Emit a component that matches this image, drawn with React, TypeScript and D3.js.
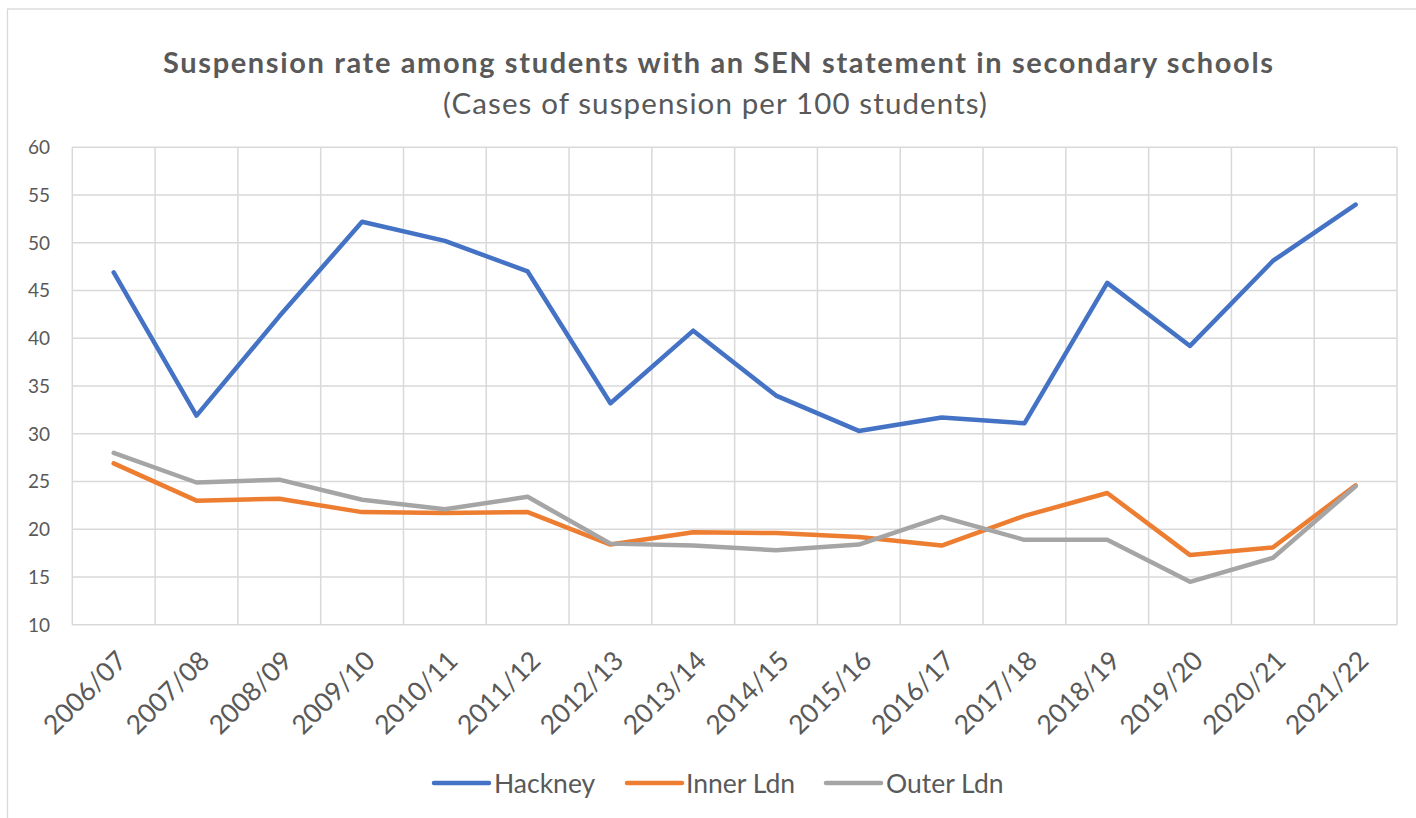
import React from "react";
import * as d3 from "d3";

const categories = ["2006/07","2007/08","2008/09","2009/10","2010/11","2011/12","2012/13","2013/14","2014/15","2015/16","2016/17","2017/18","2018/19","2019/20","2020/21","2021/22"];
const hackney = [46.9,31.9,42.3,52.2,50.2,47.0,33.2,40.8,34.0,30.3,31.7,31.1,45.8,39.2,48.1,54.0];
const innerLdn = [26.9,23.0,23.2,21.8,21.7,21.8,18.4,19.7,19.6,19.2,18.3,21.4,23.8,17.3,18.1,24.6];
const outerLdn = [28.0,24.9,25.2,23.1,22.1,23.4,18.5,18.3,17.8,18.4,21.3,18.9,18.9,14.5,17.0,24.5];
const yTicks = [10,15,20,25,30,35,40,45,50,55,60];

const seriesList = [
  { name: "Hackney", values: hackney, color: "#4472C4" },
  { name: "Inner Ldn", values: innerLdn, color: "#ED7D31" },
  { name: "Outer Ldn", values: outerLdn, color: "#A5A5A5" },
];

const W = 1416, H = 818;
const left = 72.3, right = 1397, top = 147.3, bottom = 624.8;
const FONT = "Lato, 'Open Sans', sans-serif";
const TXT = "#595959";

export default function App() {
  const x = d3.scaleBand<string>().domain(categories).range([left, right]).padding(0);
  const y = d3.scaleLinear().domain([10, 60]).range([bottom, top]);
  const cx = (c: string) => (x(c) as number) + x.bandwidth() / 2;
  const line = d3.line<number>().x((_, i) => cx(categories[i])).y((v) => y(v));
  const boundaries = categories.map((c) => x(c) as number).concat([right]);
  const legendItems = [
    { sx: 434, tx: 494 },
    { sx: 627, tx: 686 },
    { sx: 826, tx: 886 },
  ];
  return (
    <svg width={W} height={H} style={{ position: "absolute", left: 0, top: 0, display: "block", background: "#fff" }}>
      <rect x={7.5} y={9} width={1430} height={830} fill="#fff" stroke="#D9D9D9" strokeWidth={1.3} />
      <text x={718} y={73} textAnchor="middle" fontFamily={FONT} fontWeight={700} fontSize={29} fill={TXT} textLength={1110} lengthAdjust="spacing">
        Suspension rate among students with an SEN statement in secondary schools
      </text>
      <text x={715} y={114} textAnchor="middle" fontFamily={FONT} fontSize={29.5} fill={TXT} textLength={544} lengthAdjust="spacing">
        (Cases of suspension per 100 students)
      </text>
      <g>
        {yTicks.map((t) => (
          <line key={"h" + t} x1={left} x2={right} y1={y(t)} y2={y(t)} stroke="#D9D9D9" strokeWidth={1.5} />
        ))}
        {boundaries.map((b, i) => (
          <line key={"v" + i} x1={b} x2={b} y1={top} y2={bottom} stroke="#D9D9D9" strokeWidth={1.5} />
        ))}
      </g>
      <g>
        {yTicks.map((t) => (
          <text key={"yt" + t} x={50} y={y(t)} dy="0.36em" textAnchor="end" fontFamily={FONT} fontSize={19} fill={TXT}>
            {t}
          </text>
        ))}
      </g>
      <g>
        {categories.map((c) => (
          <text key={"xt" + c} transform={`translate(${cx(c) + 8},${bottom + 31}) rotate(-45)`} textAnchor="end" dy="0.35em" fontFamily={FONT} fontSize={26.5} fill={TXT}>
            {c}
          </text>
        ))}
      </g>
      <g>
        {seriesList.map((s) => (
          <path key={s.name} d={line(s.values) || ""} fill="none" stroke={s.color} strokeWidth={4.5} strokeLinecap="round" strokeLinejoin="round" />
        ))}
      </g>
      <g>
        {seriesList.map((s, i) => (
          <g key={"lg" + s.name}>
            <line x1={legendItems[i].sx} x2={legendItems[i].sx + 55} y1={783} y2={783} stroke={s.color} strokeWidth={4.5} strokeLinecap="round" />
            <text x={legendItems[i].tx} y={784} dy="0.35em" fontFamily={FONT} fontSize={26.5} fill={TXT}>
              {s.name}
            </text>
          </g>
        ))}
      </g>
    </svg>
  );
}
